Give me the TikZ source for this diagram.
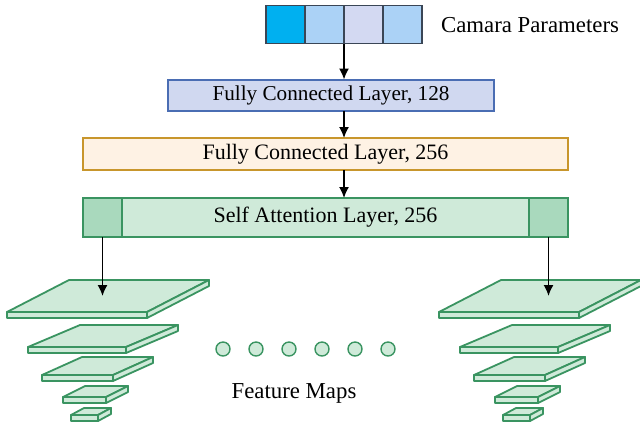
\documentclass[tikz,border=0pt]{standalone}
\usepackage{fontspec}
\setmainfont{Liberation Serif}
\usetikzlibrary{positioning,arrows.meta}
\definecolor{camcyan}{HTML}{00B0F0}
\definecolor{camblue}{HTML}{ABD2F6}
\definecolor{camlav}{HTML}{D3D9F2}
\definecolor{camedge}{HTML}{3A4656}
\definecolor{fcfill}{HTML}{D0D8F0}
\definecolor{fcedge}{HTML}{4A6DB3}
\definecolor{fcbfill}{HTML}{FEF2E4}
\definecolor{fcbedge}{HTML}{C8962C}
\definecolor{safill}{HTML}{CFEAD9}
\definecolor{saend}{HTML}{A9D9BD}
\definecolor{saedge}{HTML}{3A9461}

\begin{document}
\begin{tikzpicture}[x=0.5pt,y=-0.5pt,
  cell/.style={draw=camedge, line width=0.8pt, minimum width=19.5pt, minimum height=19pt, inner sep=0pt, outer sep=0pt},
  layerbox/.style={rectangle, line width=1pt, inner sep=0pt, outer sep=0pt},
  mapface/.style={draw=saedge, fill=safill, line width=0.9pt, line join=round},
  dot/.style={circle, draw=saedge, fill=safill, line width=0.7pt, minimum size=7pt, inner sep=0pt},
  flow/.style={-{Latex[length=5.5pt,width=5pt]}, line width=0.8pt}]
\useasboundingbox (0,0) rectangle (640,424);
% camera parameters
\node[cell, fill=camcyan] (c1) at (285.5,24.5) {};
\node[cell, fill=camblue, right=0pt of c1] (c2) {};
\node[cell, fill=camlav, right=0pt of c2] (c3) {};
\node[cell, fill=camblue, right=0pt of c3] (c4) {};
\node[font=\fontsize{11.4pt}{13pt}\selectfont] (camtxt) at (530,25) {Camara Parameters};
% layers
\node[layerbox, draw=fcedge, fill=fcfill, minimum width=163pt, minimum height=15.5pt, font=\fontsize{10.6pt}{12pt}\selectfont] (fc1) at (331,95) {Fully Connected Layer, 128};
\node[layerbox, draw=fcbedge, fill=fcbfill, minimum width=242.5pt, minimum height=16pt, font=\fontsize{11pt}{13pt}\selectfont] (fc2) at (325.5,154) {Fully Connected Layer, 256};
\node[layerbox, draw=saedge, fill=safill, minimum width=242.5pt, minimum height=19.5pt, font=\fontsize{11pt}{13pt}\selectfont] (sa) at (325.5,217.5) {Self Attention Layer, 256};
\node[layerbox, draw=saedge, fill=saend, minimum width=19.5pt, minimum height=19.5pt, anchor=west] (saL) at (sa.west) {};
\node[layerbox, draw=saedge, fill=saend, minimum width=19.5pt, minimum height=19.5pt, anchor=east] (saR) at (sa.east) {};
\draw[flow] (c2.south east) -- (c2.south east |- fc1.north);
\draw[flow] (c2.south east |- fc1.south) -- (c2.south east |- fc2.north);
\draw[flow] (c2.south east |- fc2.south) -- (c2.south east |- sa.north);
% feature map stacks
\foreach \sx in {0,432} {
  \foreach \lx/\ly/\lw/\ldx/\ldy in {7/312/140/62/-32, 28/347/98/52/-22, 42/375/71/40/-18, 63/397/43/22/-11, 71/415/27/13/-7} {
    \draw[mapface] (\sx+\lx,\ly) -- (\sx+\lx+\lw,\ly) -- (\sx+\lx+\lw+\ldx,\ly+\ldy) -- (\sx+\lx+\ldx,\ly+\ldy) -- cycle;
    \draw[mapface] (\sx+\lx,\ly) rectangle (\sx+\lx+\lw,\ly+6);
    \draw[mapface] (\sx+\lx+\lw,\ly) -- (\sx+\lx+\lw+\ldx,\ly+\ldy) -- (\sx+\lx+\lw+\ldx,\ly+\ldy+6) -- (\sx+\lx+\lw,\ly+6) -- cycle;
  }
}
\coordinate (mapL) at (108,296);
\coordinate (mapR) at (540,296);
\draw[flow] (saL.south) -- (saL.south |- mapL);
\draw[flow] (saR.south) -- (saR.south |- mapR);
% dots between stacks
\foreach \i in {0,...,5}
  \node[dot] (dot\i) at (223+33*\i,349) {};
\node[font=\fontsize{11.4pt}{13pt}\selectfont] (maptxt) at (294,393) {Feature Maps};
\end{tikzpicture}
\end{document}
